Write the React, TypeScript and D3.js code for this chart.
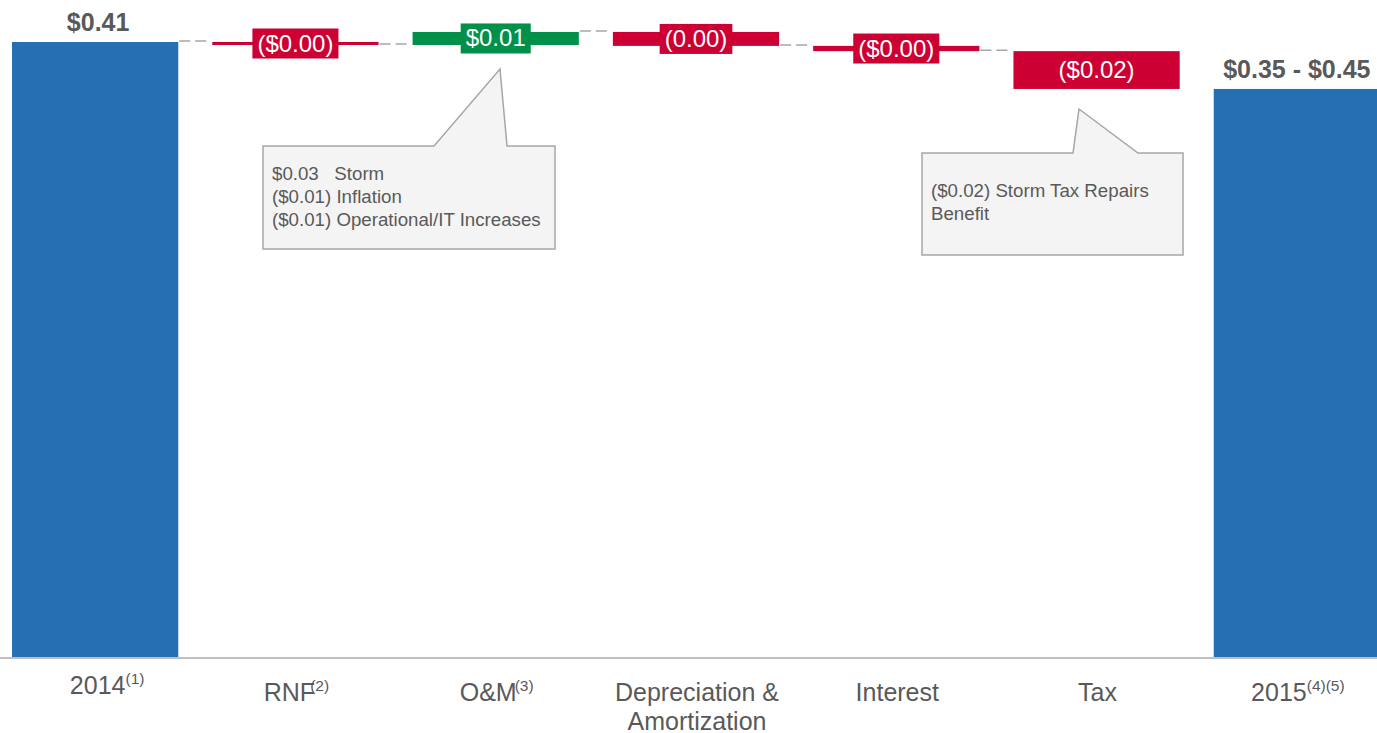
import React, { useEffect, useRef } from "react";
import * as d3 from "d3";

const W = 1377;
const H = 733;

const categories = ["2014", "RNF", "O&M", "Depreciation & Amortization", "Interest", "Tax", "2015"];
const labelLines = [["2014"], ["RNF"], ["O&M"], ["Depreciation &", "Amortization"], ["Interest"], ["Tax"], ["2015"]];
const superscripts = ["(1)", "(2)", "(3)", "", "", "", "(4)(5)"];
const startValue = 0.41;
const deltas = [-0.002, 0.0087, -0.0093, -0.0035, -0.0252];
const deltaLabels = ["($0.00)", "$0.01", "(0.00)", "($0.00)", "($0.02)"];
const startLabel = "$0.41";
const endLabel = "$0.35 - $0.45";
const callout1 = ["$0.03   Storm", "($0.01) Inflation", "($0.01) Operational/IT Increases"];
const callout2 = ["($0.02) Storm Tax Repairs", "Benefit"];

const BLUE = "#2470b3";
const RED = "#cc0033";
const GREEN = "#00904a";
const GRAY = "#595959";
const FONT = "'Liberation Sans', Arial, sans-serif";

export default function App() {
  const ref = useRef<SVGSVGElement | null>(null);

  useEffect(() => {
    const svg = d3.select(ref.current);
    svg.selectAll("*").remove();

    const baseY = 657;
    const x = d3.scaleBand<string>().domain(categories).range([-5, 1397]).paddingInner(0.17).paddingOuter(0.085);
    const y = d3.scaleLinear().domain([0, startValue]).range([baseY, 42]);

    const levels: number[] = [startValue];
    deltas.forEach((d, i) => levels.push(levels[i] + d));
    const endValue = levels[levels.length - 1];

    const g = svg.append("g").attr("font-family", FONT);

    const totals = [
      { cat: categories[0], v: startValue, label: startLabel, dx: 3 },
      { cat: categories[6], v: endValue, label: endLabel, dx: 0 },
    ];
    g.selectAll("rect.total")
      .data(totals)
      .join("rect")
      .attr("x", (d) => x(d.cat)!)
      .attr("width", x.bandwidth())
      .attr("y", (d) => y(d.v))
      .attr("height", (d) => baseY - y(d.v))
      .attr("fill", BLUE);
    g.selectAll("text.total")
      .data(totals)
      .join("text")
      .attr("x", (d) => x(d.cat)! + x.bandwidth() / 2 + d.dx)
      .attr("y", (d) => y(d.v) - 11)
      .attr("text-anchor", "middle")
      .attr("font-size", 25)
      .attr("font-weight", "bold")
      .attr("fill", GRAY)
      .text((d) => d.label);

    // connectors between consecutive bars (none into the final total)
    for (let i = 0; i < categories.length - 2; i++) {
      const lv = levels[i];
      const x1 = x(categories[i])! + x.bandwidth();
      const x2 = x(categories[i + 1])!;
      g.append("line")
        .attr("x1", x1 + 1)
        .attr("x2", x2 - 2)
        .attr("y1", y(lv) - 1)
        .attr("y2", y(lv) - 1)
        .attr("stroke", "#a6a6a6")
        .attr("stroke-width", 1.5)
        .attr("stroke-dasharray", "11,5");
    }

    const steps = deltas.map((d, i) => ({
      cat: categories[i + 1],
      from: levels[i],
      to: levels[i + 1],
      d,
      label: deltaLabels[i],
    }));
    const bars = g.selectAll("g.step").data(steps).join("g");
    bars
      .append("rect")
      .attr("x", (d) => x(d.cat)!)
      .attr("width", x.bandwidth())
      .attr("y", (d) => Math.min(y(d.from), y(d.to)))
      .attr("height", (d) => Math.max(3, Math.abs(y(d.from) - y(d.to))))
      .attr("fill", (d) => (d.d >= 0 ? GREEN : RED));
    bars.each(function (d) {
      const sel = d3.select(this);
      const cx = x(d.cat)! + x.bandwidth() / 2;
      const cy = (y(d.from) + y(d.to)) / 2;
      const box = sel.append("rect");
      const t = sel
        .append("text")
        .attr("x", cx)
        .attr("y", cy + 8)
        .attr("text-anchor", "middle")
        .attr("font-size", 24)
        .attr("fill", "#ffffff")
        .text(d.label);
      const tw = (t.node() as SVGTextElement).getComputedTextLength();
      box
        .attr("x", cx - tw / 2 - 5)
        .attr("width", tw + 10)
        .attr("y", cy - 15)
        .attr("height", 30)
        .attr("fill", d.d >= 0 ? GREEN : RED);
    });

    g.append("line")
      .attr("x1", 0)
      .attr("x2", W)
      .attr("y1", baseY + 1)
      .attr("y2", baseY + 1)
      .attr("stroke", "#c0c0c0")
      .attr("stroke-width", 2);

    categories.forEach((c, i) => {
      const cx = x(c)! + x.bandwidth() / 2 + (i === 0 ? 12 : 1);
      const lines = labelLines[i];
      const by = i === 0 ? 694 : 701;
      lines.forEach((ln, j) => {
        const t = g
          .append("text")
          .attr("x", cx)
          .attr("y", by + j * 28.5)
          .attr("text-anchor", "middle")
          .attr("font-size", 25)
          .attr("fill", GRAY);
        t.append("tspan").text(ln);
        if (j === lines.length - 1 && superscripts[i]) {
          t.append("tspan")
            .attr("font-size", 15.5)
            .attr("dy", -10)
            .attr("dx", c === "RNF" ? -5 : c === "O&M" ? -2 : 0)
            .text(superscripts[i]);
        }
      });
    });

    const callout = (
      bx: number,
      by: number,
      bw: number,
      bh: number,
      p1: number,
      tip: [number, number],
      p2: number,
      lines: string[],
      ty: number
    ) => {
      const path = d3.path();
      path.moveTo(bx, by);
      path.lineTo(p1, by);
      path.lineTo(tip[0], tip[1]);
      path.lineTo(p2, by);
      path.lineTo(bx + bw, by);
      path.lineTo(bx + bw, by + bh);
      path.lineTo(bx, by + bh);
      path.closePath();
      g.append("path")
        .attr("d", path.toString())
        .attr("fill", "#f4f4f4")
        .attr("stroke", "#a6a6a6")
        .attr("stroke-width", 1.5);
      lines.forEach((ln, j) => {
        g.append("text")
          .attr("x", bx + 9)
          .attr("y", ty + j * 23)
          .attr("font-size", 18.7)
          .attr("fill", GRAY)
          .style("white-space", "pre")
          .text(ln);
      });
    };
    callout(263, 146, 292, 103, 434, [500, 69], 507, callout1, 180);
    callout(922, 153, 261, 102, 1073, [1079, 109], 1138, callout2, 197);
  }, []);

  return (
    <svg
      ref={ref}
      width={W}
      height={H}
      style={{ position: "absolute", left: 0, top: 0, background: "#ffffff" }}
    />
  );
}
